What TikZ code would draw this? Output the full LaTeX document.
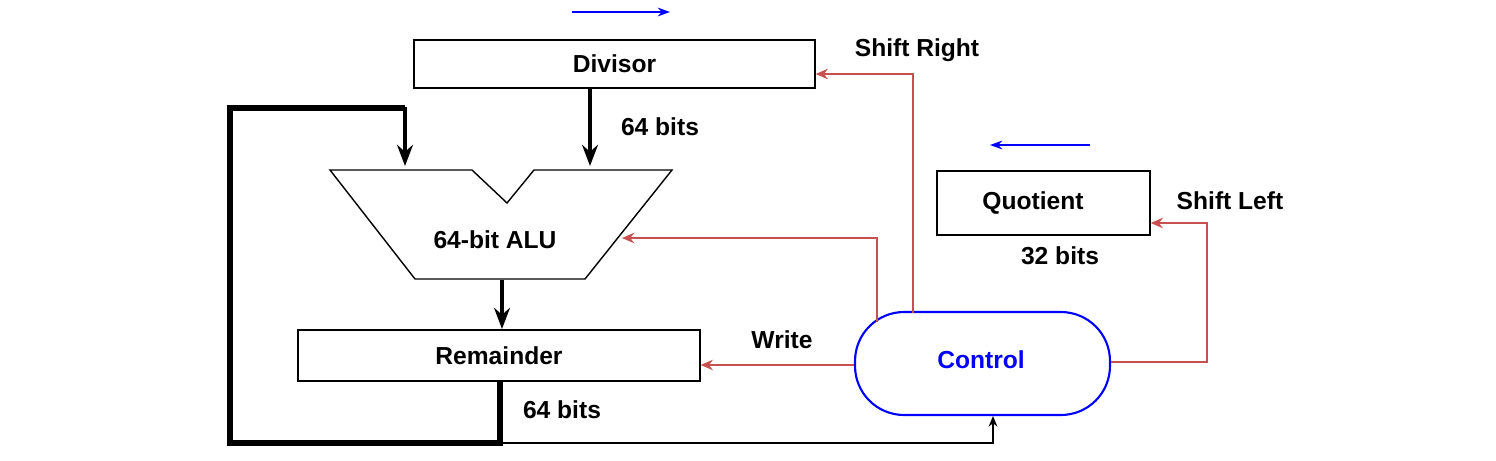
\documentclass[tikz,border=0pt]{standalone}
\usepackage{fontspec}
\setmainfont{Liberation Sans}
\usetikzlibrary{positioning,calc,arrows.meta}
\definecolor{ctlred}{RGB}{200,80,80}

\tikzset{
  reg/.style={draw, thick, minimum height=0.96cm, font=\fontsize{14}{16}\selectfont\bfseries},
  lbl/.style={font=\fontsize{14}{16}\selectfont\bfseries},
  bus/.style={line width=2.6pt, -{Stealth[length=12pt,width=9pt]}},
  ctl/.style={ctlred, thick, -{Stealth[length=7pt,width=6pt]}},
  dir/.style={blue, thick, -{Stealth[length=7pt,width=5pt]}}
}

\begin{document}
\begin{tikzpicture}[x=0.02cm,y=-0.02cm]
    \useasboundingbox (0,0) rectangle (1496,460);

    % registers
    \node[reg, minimum width=8.02cm] (div) at (614.5,64) {Divisor};
    \node[reg, minimum width=8.04cm, minimum height=1.02cm] (rem) at (499,355.5) {Remainder};
    \node[reg, minimum width=4.26cm, minimum height=1.28cm] (quo) at (1043.5,203) {};
    \node[lbl] at (1033,203) {Quotient};
    \node[draw=blue, line width=1.2pt, rounded corners=0.98cm, minimum width=5.1cm, minimum height=2.06cm,
          text=blue, font=\fontsize{14}{16}\selectfont\bfseries] (ctl) at (982.5,363.5) {};
    \node[lbl, text=blue] at (981,360) {Control};

    % ALU
    \draw[thick] (330,170) -- (472,170) -- (507,203) -- (534,170) -- (672,170)
        -- (585,279) -- (415,279) -- cycle;
    \node[lbl] (alu) at (495,240) {64-bit ALU};

    % labels
    \node[lbl] at (917,50) {Shift Right};
    \node[lbl] at (660,127) {64 bits};
    \node[lbl] at (1230,201) {Shift Left};
    \node[lbl] at (1060,256) {32 bits};
    \node[lbl] at (782,340) {Write};
    \node[lbl] at (562,410) {64 bits};

    % data paths
    \draw[bus] (div.south -| 590,0) -- (590,166);
    \draw[bus] (502,280) -- (502,329);
    \draw[line width=3.2pt] (rem.south -| 500,0) -- (500,443) -- (230,443) -- (230,108) -- (405,108);
    \draw[bus] (405,106.5) -- (405,166);
    \draw[thick, -{Stealth[length=6pt,width=5pt]}] (500,443) -- (993,443) -- (ctl.south -| 993,0);

    % control lines
    \draw[ctl] (913,313) -- (913,74) -- (div.east |- 0,74);
    \draw[ctl] (877,322) -- (877,238) -- (622,238);
    \draw[ctl] (ctl.west |- 0,365) -- (rem.east |- 0,365);
    \draw[ctl] (ctl.east |- 0,362) -- (1207,362) -- (1207,223) -- (quo.east |- 0,223);

    % shift directions
    \draw[dir] (572,12) -- (670,12);
    \draw[dir] (1090,145) -- (990,145);
\end{tikzpicture}
\end{document}
